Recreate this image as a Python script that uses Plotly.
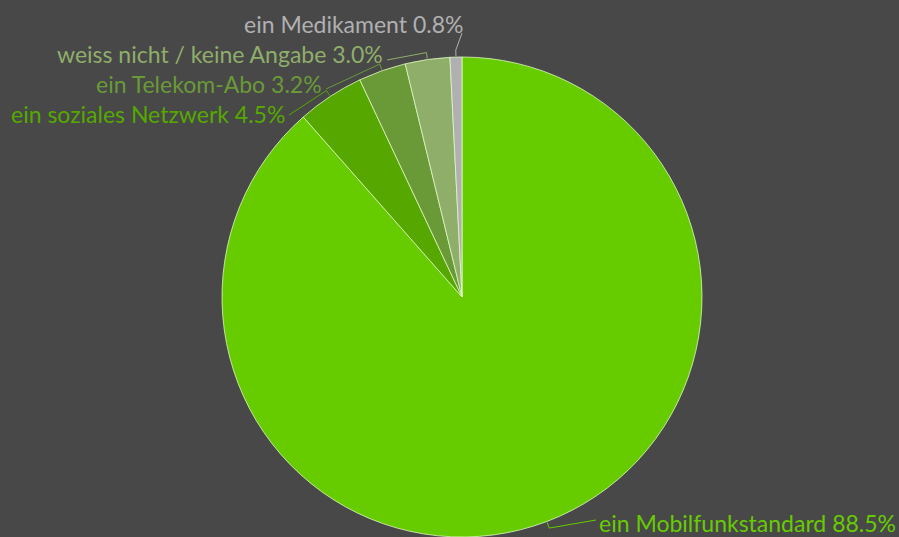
import math
import plotly.graph_objects as go

# ---- data ----
labels = ["ein Mobilfunkstandard", "ein soziales Netzwerk", "ein Telekom-Abo",
          "weiss nicht / keine Angabe", "ein Medikament"]
values = [88.5, 4.5, 3.2, 3.0, 0.8]
colors = ["#66cc00", "#56a800", "#6a9a38", "#8fae6a", "#b0b0b2"]

# ---- layout ----
W, H = 899, 537
CX, CY, R = 462, 297, 240  # pixel geometry of the pie
BG = "#484848"
FONT = "Lato"
FS = 23

# label anchor positions (pixels): (x, y, xanchor, line-end x, line-end y)
label_pos = [
    (598, 523, "left", 596, 520),
    (286, 114, "right", 289, 115),
    (323, 84, "right", 326, 89),
    (384, 54, "right", 387, 60),
    (464, 24, "right", 462, 33),
]

def px2paper(x, y):
    return x / W, 1 - y / H

fig = go.Figure()
fig.add_trace(go.Pie(
    labels=labels, values=values, sort=False, direction="clockwise", rotation=0,
    marker=dict(colors=colors, line=dict(color="rgba(230,255,200,0.75)", width=1)),
    textinfo="none", hoverinfo="label+percent", showlegend=False,
    domain=dict(x=[(CX - R) / W, (CX + R) / W], y=[1 - (CY + R) / H, 1 - (CY - R) / H]),
))

total = sum(values)
cum = 0.0
annotations = []
shapes = []
for lab, val, col, pos in zip(labels, values, colors, label_pos):
    mid = (cum + val / 2) / total * 2 * math.pi
    cum += val
    ax_, ay_ = CX + (R + 1) * math.sin(mid), CY - (R + 1) * math.cos(mid)
    bx_, by_ = CX + (R + 7) * math.sin(mid), CY - (R + 7) * math.cos(mid)
    tx, ty, xa, lx, ly = pos
    pts = [px2paper(ax_, ay_), px2paper(bx_, by_), px2paper(lx, ly)]
    path = "M {} {} L {} {} L {} {}".format(*[c for p in pts for c in p])
    shapes.append(dict(type="path", path=path, xref="paper", yref="paper",
                       line=dict(color=col, width=1)))
    x, y = px2paper(tx, ty)
    annotations.append(dict(text=f"{lab} {val:.1f}%", x=x, y=y, xref="paper", yref="paper",
                            xanchor=xa, yanchor="middle", showarrow=False, borderpad=0,
                            font=dict(family=FONT, size=FS, color=col)))

fig.update_layout(
    width=W, height=H, margin=dict(l=0, r=0, t=0, b=0),
    paper_bgcolor=BG, plot_bgcolor=BG,
    annotations=annotations, shapes=shapes,
)
fig.write_html("out.html", config={"displayModeBar": False},
               post_script="document.body.style.margin='0';document.body.style.background='" + BG + "';")
